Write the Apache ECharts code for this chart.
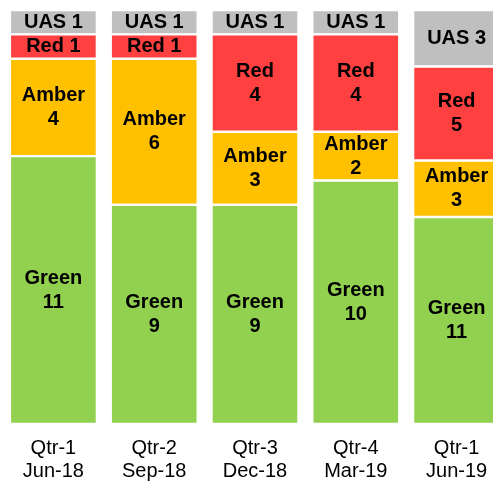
<!DOCTYPE html>
<html><head><meta charset="utf-8">
<script src="https://cdn.jsdelivr.net/npm/echarts@6/dist/echarts.min.js"></script>
<style>html,body{margin:0;padding:0;background:#fff}#c{width:493px;height:485px}</style>
</head><body><div id="c"></div>
<script>
const categories = ['Qtr-1\nJun-18', 'Qtr-2\nSep-18', 'Qtr-3\nDec-18', 'Qtr-4\nMar-19', 'Qtr-1\nJun-19'];
const green = [11, 9, 9, 10, 11];
const amber = [4, 6, 3, 2, 3];
const red = [1, 1, 4, 4, 5];
const uas = [1, 1, 1, 1, 3];

const totals = categories.map((_, i) => green[i] + amber[i] + red[i] + uas[i]);
const pct = arr => arr.map((v, i) => ({ value: v / totals[i] * 100, raw: v }));

function mk(name, arr, color, oneLine) {
  return {
    name, type: 'bar', stack: 's', barWidth: 87,
    data: pct(arr),
    itemStyle: { color, borderColor: '#fff', borderWidth: 1.2 },
    label: {
      show: true, position: 'inside', color: '#000',
      fontFamily: 'Liberation Sans, Arial, sans-serif', fontWeight: 'bold', fontSize: 20, lineHeight: 24,
      formatter: p => (oneLine || p.data.raw === 1) ? name + ' ' + p.data.raw : name + '\n' + p.data.raw
    }
  };
}

const chart = echarts.init(document.getElementById('c'));
chart.setOption({
  animation: false,
  grid: { left: 3, width: 504, top: 10, bottom: 61, containLabel: false, outerBoundsMode: 'none' },
  xAxis: {
    type: 'category', data: categories,
    axisLine: { show: false }, axisTick: { show: false },
    axisLabel: { color: '#000', fontFamily: 'Liberation Sans, Arial, sans-serif', fontSize: 20, lineHeight: 23, margin: 13 }
  },
  yAxis: { type: 'value', min: 0, max: 100, show: false, splitLine: { show: false } },
  series: [
    mk('Green', green, '#92D050', false),
    mk('Amber', amber, '#FFC000', false),
    mk('Red', red, '#FF4040', false),
    mk('UAS', uas, '#BFBFBF', true)
  ]
});
</script></body></html>
